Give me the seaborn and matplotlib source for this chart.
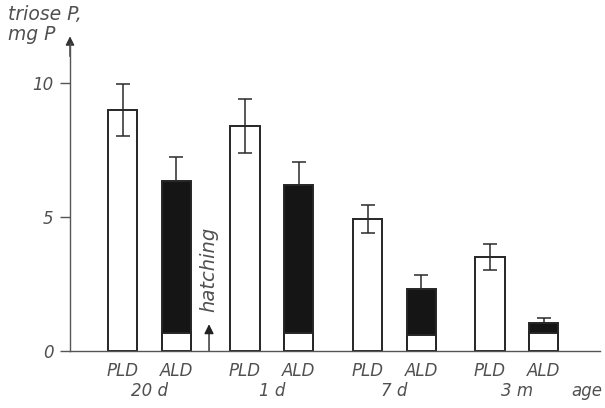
import numpy as np
import pandas as pd
import matplotlib
matplotlib.use("Agg")
import matplotlib.pyplot as plt
import seaborn as sns

# Triose phosphate formed by the two aldolase forms at each age
ages = ["20 d", "1 d", "7 d", "3 m"]
enzymes = ["PLD", "ALD"]
pld = [9.0, 8.4, 4.93, 3.5]
pld_err = [0.98, 1.0, 0.52, 0.48]
ald = [6.35, 6.18, 2.33, 1.03]
ald_err = [0.9, 0.86, 0.5, 0.2]
ald_base = [0.67, 0.67, 0.6, 0.67]
y_ticks = [0, 5, 10]

sns.set_theme(style="white")
plt.rcParams["font.family"] = ["DejaVu Sans"]

text_kw = dict(style="italic", color="#505050")

df = pd.DataFrame({
    "age": ages * 2,
    "enzyme": ["PLD"] * len(ages) + ["ALD"] * len(ages),
    "value": pld + ald,
})

fig = plt.figure(figsize=(6.05, 4.08), dpi=100)
ax = fig.add_axes([70 / 605, 57 / 408, 530 / 605, 308 / 408])

sns.barplot(data=df, x="age", y="value", hue="enzyme", order=ages,
            hue_order=enzymes, palette={"PLD": "white", "ALD": "#151515"},
            width=0.88, gap=0.46, errorbar=None, edgecolor="#262626",
            linewidth=1.4, legend=False, ax=ax)

bars = sorted(ax.patches, key=lambda p: p.get_x())
pld_bars, ald_bars = bars[0::2], bars[1::2]
cx = lambda p: p.get_x() + p.get_width() / 2

# PLD: whiskers both ways; ALD: the lower one disappears in the dark fill
ax.errorbar([cx(p) for p in pld_bars], pld, yerr=pld_err, fmt="none",
            ecolor="#2a2a2a", elinewidth=1.1, capsize=5, capthick=1.1, zorder=5)
ax.errorbar([cx(p) for p in ald_bars], ald,
            yerr=[np.zeros(len(ald_err)), ald_err], fmt="none",
            ecolor="#2a2a2a", elinewidth=1.1, capsize=5, capthick=1.1, zorder=5)

# white foot of the ALD bars
ax.bar([cx(p) for p in ald_bars], ald_base, width=ald_bars[0].get_width(),
       color="white", edgecolor="#262626", linewidth=1.4, zorder=4)

ax.set_xlim(-0.649, 3.678)
ax.set_ylim(0, 11.5)

for s in ["top", "right"]:
    ax.spines[s].set_visible(False)
for s in ["left", "bottom"]:
    ax.spines[s].set_color("#555555")
    ax.spines[s].set_linewidth(1.0)
    ax.spines[s].set_zorder(6)

ax.set_yticks(y_ticks)
ax.set_yticklabels([str(t) for t in y_ticks], fontsize=12, **text_kw)
ax.tick_params(axis="y", left=True, length=7, width=1.0, color="#555555",
               direction="out", pad=5)

ax.set_xticks([cx(p) for p in bars])
ax.set_xticklabels(enzymes * len(ages), fontsize=12, **text_kw)
ax.tick_params(axis="x", bottom=False, length=0, pad=8)
ax.set_xlabel("")
ax.set_ylabel("")

for i, a in enumerate(ages):
    ax.text(i, -0.13, a, transform=ax.get_xaxis_transform(), ha="center",
            va="center", fontsize=12, **text_kw)

# arrow head on the value axis
ax.annotate("", xy=(-0.649, 11.75), xytext=(-0.649, 11.0),
            arrowprops=dict(arrowstyle="-|>", color="#333333", lw=1.0,
                            mutation_scale=13, shrinkA=0, shrinkB=0),
            annotation_clip=False)

# hatching marker between the first two ages
ax.annotate("", xy=(0.486, 1.0), xytext=(0.486, 0.0),
            arrowprops=dict(arrowstyle="-|>", color="#222222", lw=1.0,
                            mutation_scale=14, shrinkA=0, shrinkB=0))
ax.text(0.486, 3.05, "hatching", rotation=90, ha="center", va="center",
        fontsize=14, **text_kw)

fig.text(8 / 605, 1 - 5 / 408, "triose P,\nmg P", ha="left", va="top",
         fontsize=13.5, linespacing=1.05, **text_kw)
fig.text(602 / 605, 1 - 391 / 408, "age", ha="right", va="center",
         fontsize=12, **text_kw)

fig.savefig("out.png", dpi=100)
